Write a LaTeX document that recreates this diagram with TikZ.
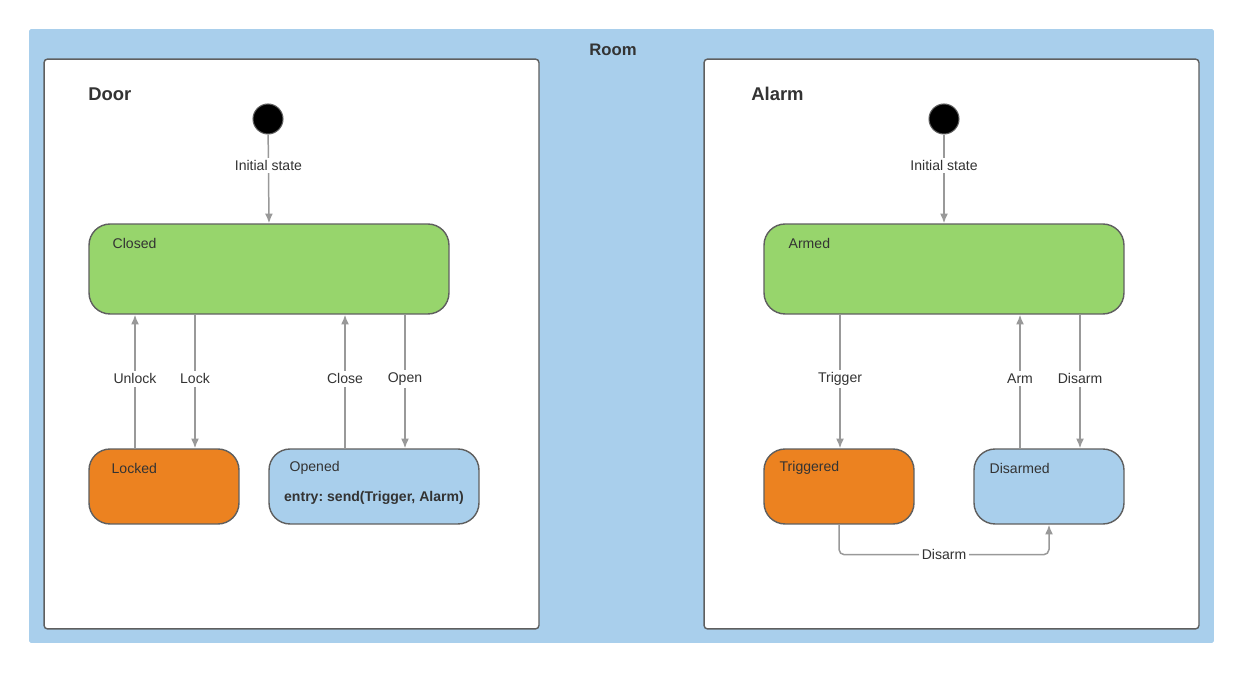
\documentclass[tikz,border=0pt]{standalone}
\usepackage{fontspec}
\setmainfont{Liberation Sans}
\usetikzlibrary{positioning,arrows.meta}
\definecolor{roomblue}{HTML}{A9CFEC}
\definecolor{stategreen}{HTML}{97D56C}
\definecolor{stateorange}{HTML}{EC8220}
\definecolor{edgegray}{HTML}{5F5F5F}
\definecolor{arrowgray}{HTML}{999999}
\definecolor{textgray}{HTML}{333333}
\tikzset{
  frame/.style={draw=edgegray, fill=white, line width=0.8pt, rounded corners=2pt,
    minimum width=9.9cm, minimum height=11.4cm, inner sep=0pt},
  state/.style={draw=edgegray, line width=0.8pt, rounded corners=12pt,
    minimum height=1.5cm, inner sep=0pt},
  statelbl/.style={anchor=west, text=textgray, font=\fontsize{8}{9.6}\selectfont, inner sep=0pt},
  trans/.style={draw=arrowgray, line width=0.85pt, -{Latex[length=5.5pt,width=4.5pt]}},
  translbl/.style={fill=white, text=textgray, font=\fontsize{8}{9.6}\selectfont, inner sep=1.5pt},
  init/.style={circle, fill=black, draw=edgegray, line width=0.6pt, minimum size=0.6cm, inner sep=0pt},
  title/.style={anchor=west, text=textgray, font=\fontsize{10.5}{12}\bfseries\selectfont, inner sep=0pt}
}
\begin{document}
\begin{tikzpicture}[x=0.02cm, y=-0.02cm]
\useasboundingbox (0,0) rectangle (1235,675);
% room and the two regions
\node[fill=roomblue, rounded corners=1pt, minimum width=23.7cm, minimum height=12.28cm, inner sep=0pt] (room) at (621.5,336) {};
\node[text=textgray, font=\fontsize{9.5}{11}\bfseries\selectfont] (roomlbl) at (613,50) {Room};
\node[frame] (door) at (291.5,344) {};
\node[frame] (alarm) at (951.5,344) {};
\node[title] (doorlbl) at (88,94) {Door};
\node[title] (alarmlbl) at (751,94) {Alarm};
% initial states
\node[init] (doorinit) at (268,119) {};
\node[init] (alarminit) at (944,119) {};
% states
\node[state, fill=stategreen, minimum width=7.2cm, minimum height=1.8cm] (Closed) at (269,269) {};
\node[state, fill=stategreen, minimum width=7.2cm, minimum height=1.8cm] (Armed) at (944,269) {};
\node[state, fill=stateorange, minimum width=3cm] (Locked) at (164,486.5) {};
\node[state, fill=roomblue, minimum width=4.2cm] (Opened) at (374,486.5) {};
\node[state, fill=stateorange, minimum width=3cm] (Triggered) at (839,486.5) {};
\node[state, fill=roomblue, minimum width=3cm] (Disarmed) at (1049,486.5) {};
\foreach \s/\dx in {Closed/24,Armed/25,Locked/23,Opened/21,Triggered/16,Disarmed/16} % edit here for the state names
  \node[statelbl] (\s lbl) at ([shift={(\dx,20)}]\s.north west) {\s};
\node[text=textgray, font=\fontsize{8}{9.6}\bfseries\selectfont] (openedentry) at (374,498) {entry:\ send(Trigger, Alarm)};
% transitions
\draw[trans] (doorinit) -- (Closed.north) node[translbl, pos=0.35] {Initial state};
\draw[trans] (alarminit) -- (Armed.north) node[translbl, pos=0.35] {Initial state};
\foreach \x/\a/\b/\lbl in {195/Closed/Locked/Lock, 405/Closed/Opened/Open, 840/Armed/Triggered/Trigger, 1080/Armed/Disarmed/Disarm} % edit here for the down arrows
{
  \coordinate (tx) at (\x,0);
  \draw[trans] (\a.south -| tx) -- (\b.north -| tx) node[translbl, pos=0.48] {\lbl};
}
\foreach \x/\a/\b/\lbl in {135/Locked/Closed/Unlock, 345/Opened/Closed/Close, 1020/Disarmed/Armed/Arm} % edit here for the up arrows
{
  \coordinate (tx) at (\x,0);
  \draw[trans] (\a.north -| tx) -- (\b.south -| tx) node[translbl, pos=0.52] {\lbl};
}
\draw[trans, rounded corners=3pt] (Triggered.south) -- ++(0,30) -| (Disarmed.south) node[translbl, pos=0.25] {Disarm};
\end{tikzpicture}
\end{document}
